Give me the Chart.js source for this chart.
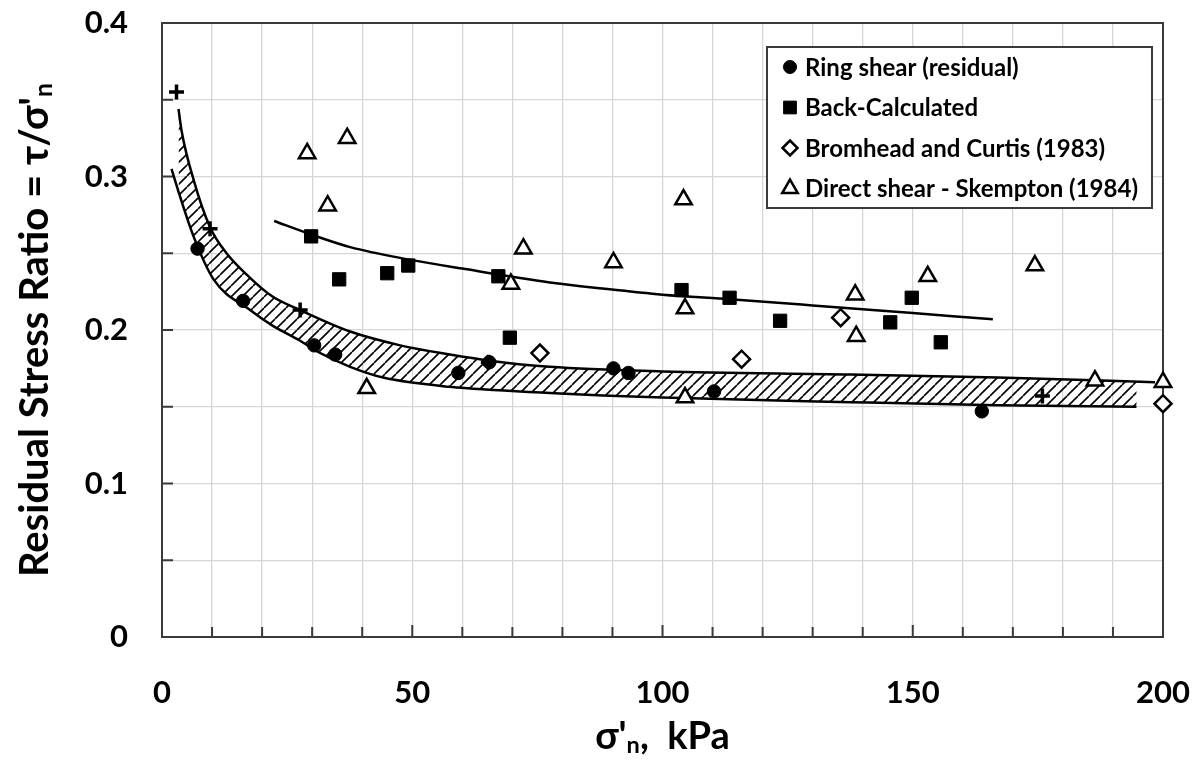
<!DOCTYPE html>
<html>
<head>
<meta charset="utf-8">
<script src="https://cdn.jsdelivr.net/npm/chart.js@4.4.1/dist/chart.umd.min.js"></script>
<style>
html, body { margin: 0; padding: 0; background: #fff; }
#wrap { width: 1202px; height: 760px; }
</style>
</head>
<body>
<div id="wrap"><canvas id="chart" width="1202" height="760"></canvas></div>
<script>
// ---- values (x = sigma'n in kPa, y = tau/sigma'n) ----
const ringShearX = [7.1, 16.2, 30.4, 34.6, 59.2, 65.4, 90.2, 93.2, 110.3, 163.8];
const ringShearY = [0.253, 0.219, 0.190, 0.184, 0.172, 0.179, 0.175, 0.172, 0.160, 0.147];

const backCalcX = [29.8, 35.4, 45.0, 49.2, 67.2, 69.5, 103.8, 113.4, 123.5, 145.5, 149.8, 155.6];
const backCalcY = [0.261, 0.233, 0.237, 0.242, 0.235, 0.195, 0.226, 0.221, 0.206, 0.205, 0.221, 0.192];

const bromheadX = [75.5, 115.8, 135.6, 200];
const bromheadY = [0.185, 0.181, 0.208, 0.152];

const skemptonX = [29.0, 37.0, 33.1, 40.9, 69.7, 72.2, 90.2, 104.2, 104.5, 104.5, 138.5, 138.7, 153.0, 174.4, 186.4, 200];
const skemptonY = [0.315, 0.325, 0.281, 0.162, 0.230, 0.253, 0.244, 0.285, 0.214, 0.156, 0.223, 0.196, 0.235, 0.242, 0.167, 0.166];

const plusX = [2.9, 9.6, 27.6, 65.2, 175.9];
const plusY = [0.355, 0.266, 0.213, 0.179, 0.157];

// trend through back-calculated cases
const trendX = [22.4, 30, 37.6, 49.2, 60, 77.5, 88, 100, 113.5, 130, 150, 166];
const trendY = [0.271, 0.262, 0.254, 0.246, 0.240, 0.231, 0.227, 0.223, 0.220, 0.216, 0.211, 0.207];

// hatched band, upper and lower bounds
const bandUpX = [3.3, 3.9, 6.3, 9.6, 12.9, 17.6, 22, 27.6, 37.6, 47.6, 57.5, 65.5, 77.5, 100, 137.5, 167, 198.4];
const bandUpY = [0.344, 0.330, 0.298, 0.267, 0.250, 0.234, 0.222, 0.213, 0.199, 0.190, 0.184, 0.180, 0.176, 0.173, 0.171, 0.169, 0.166];
const bandLoX = [1.9, 3.6, 6.3, 10.3, 17.6, 22, 27.6, 31, 37.6, 44.2, 57.5, 77.5, 100, 137.5, 167, 194.7];
const bandLoY = [0.305, 0.287, 0.261, 0.233, 0.213, 0.203, 0.193, 0.186, 0.176, 0.169, 0.163, 0.159, 0.156, 0.153, 0.151, 0.150];

const xTickLabels = [0, 50, 100, 150, 200];
const yTickLabels = [0, 0.1, 0.2, 0.3, 0.4];

const FONT = "Lato, 'Open Sans', 'DejaVu Sans', sans-serif";

function pts(xs, ys) {
    return xs.map((x, i) => ({ x: x, y: ys[i] }));
}

// diagonal hatch for the band
function makeHatch() {
    const s = 11;
    const c = document.createElement('canvas');
    c.width = s; c.height = s;
    const g = c.getContext('2d');
    g.strokeStyle = '#000';
    g.lineWidth = 1.6;
    g.beginPath();
    for (let k = -1; k <= 1; k++) {
        g.moveTo(k * s, s);
        g.lineTo(k * s + s, 0);
    }
    g.stroke();
    return g.createPattern(c, 'repeat');
}

const ctx = document.getElementById('chart').getContext('2d');
const hatch = makeHatch();

// frame and inside tick marks
const framePlugin = {
    id: 'frame',
    beforeDatasetsDraw(chart) {
        const { ctx, chartArea: a, scales } = chart;
        ctx.save();
        ctx.strokeStyle = '#3a3a3a';
        ctx.lineWidth = 2;
        ctx.beginPath();
        scales.x.ticks.forEach(t => {
            const px = scales.x.getPixelForValue(t.value);
            ctx.moveTo(px, a.bottom);
            ctx.lineTo(px, a.bottom - (t.value % 50 === 0 ? 12 : 10));
        });
        scales.y.ticks.forEach(t => {
            const py = scales.y.getPixelForValue(t.value);
            ctx.moveTo(a.left, py);
            ctx.lineTo(a.left + 11, py);
        });
        ctx.stroke();
        ctx.strokeRect(a.left, a.top, a.right - a.left, a.bottom - a.top);
        ctx.restore();
    }
};

// axis titles with subscripts
function drawPieces(ctx, pieces, size) {
    let w = 0;
    pieces.forEach(p => {
        ctx.font = 'bold ' + (p.sub ? size * 0.62 : size) + 'px ' + FONT;
        w += ctx.measureText(p.t).width;
    });
    let x = -w / 2;
    pieces.forEach(p => {
        ctx.font = 'bold ' + (p.sub ? size * 0.62 : size) + 'px ' + FONT;
        ctx.fillText(p.t, x, p.sub ? size * 0.22 : 0);
        x += ctx.measureText(p.t).width;
    });
}

const titlePlugin = {
    id: 'titles',
    afterDraw(chart) {
        const { ctx, chartArea: a } = chart;
        ctx.save();
        ctx.fillStyle = '#000';
        ctx.textBaseline = 'middle';
        ctx.textAlign = 'left';
        ctx.translate((a.left + a.right) / 2, 737);
        drawPieces(ctx, [{ t: "σ'" }, { t: 'n', sub: true }, { t: ',  kPa' }], 38);
        ctx.restore();

        ctx.save();
        ctx.fillStyle = '#000';
        ctx.textBaseline = 'middle';
        ctx.textAlign = 'left';
        ctx.translate(35, (a.top + a.bottom) / 2);
        ctx.rotate(-Math.PI / 2);
        drawPieces(ctx, [{ t: "Residual Stress Ratio = τ/σ'" }, { t: 'n', sub: true }], 40);
        ctx.restore();
    }
};

// legend box inside the plot
const legendPlugin = {
    id: 'boxLegend',
    afterDraw(chart) {
        const { ctx } = chart;
        const items = chart.data.datasets.filter(d => d.legend);
        const left = 767, right = 1152, top = 47, bottom = 208;
        ctx.save();
        ctx.fillStyle = '#fff';
        ctx.fillRect(left, top, right - left, bottom - top);
        ctx.strokeStyle = '#3a3a3a';
        ctx.lineWidth = 2;
        ctx.strokeRect(left, top, right - left, bottom - top);
        items.forEach((d, i) => {
            const y = 67 + i * 40.5;
            ctx.fillStyle = d.backgroundColor;
            ctx.strokeStyle = d.borderColor;
            ctx.lineWidth = d.borderWidth;
            Chart.helpers.drawPoint(ctx, {
                pointStyle: d.pointStyle,
                radius: d.legendRadius,
                borderWidth: d.borderWidth,
                rotation: 0
            }, 790, y);
            ctx.fillStyle = '#000';
            ctx.font = 'bold 24px ' + FONT;
            ctx.textBaseline = 'middle';
            ctx.textAlign = 'left';
            ctx.fillText(d.label, 805, y + 1);
        });
        ctx.restore();
    }
};

function markers(label, data, style, r, lr, fill, bw) {
    return {
        label: label,
        legend: !!label,
        data: data,
        showLine: false,
        pointStyle: style,
        pointRadius: r,
        legendRadius: lr,
        backgroundColor: fill,
        borderColor: '#000',
        borderWidth: bw,
        pointBorderWidth: bw,
        clip: false
    };
}

function curve(data, extra) {
    return Object.assign({
        data: data,
        showLine: true,
        pointRadius: 0,
        borderColor: '#000',
        borderWidth: 2.5,
        cubicInterpolationMode: 'monotone',
        fill: false
    }, extra || {});
}

new Chart(ctx, {
    type: 'line',
    data: {
        datasets: [
            markers('Ring shear (residual)', pts(ringShearX, ringShearY), 'circle', 6.7, 6.5, '#000', 1),
            markers('Back-Calculated', pts(backCalcX, backCalcY), 'rect', 9.4, 9, '#000', 1),
            markers('Bromhead and Curtis (1983)', pts(bromheadX, bromheadY), 'rectRot', 8.5, 7.5, '#fff', 2.5),
            markers('Direct shear - Skempton (1984)', pts(skemptonX, skemptonY), 'triangle', 9.5, 9, '#fff', 2.5),
            markers('', pts(plusX, plusY), 'cross', 7.5, 7, '#000', 3.5),
            curve(pts(trendX, trendY)),
            curve(pts(bandUpX, bandUpY), { fill: '+1', backgroundColor: hatch }),
            curve(pts(bandLoX, bandLoY))
        ]
    },
    options: {
        responsive: false,
        animation: false,
        events: [],
        layout: { padding: { top: 23, right: 39, left: 0, bottom: 0 }, autoPadding: false },
        plugins: {
            legend: { display: false },
            tooltip: { enabled: false },
            filler: { drawTime: 'beforeDatasetsDraw' }
        },
        scales: {
            x: {
                type: 'linear',
                min: 0,
                max: 200,
                afterFit: s => { s.height = 123; s.paddingLeft = 0; s.paddingRight = 0; },
                border: { display: false },
                grid: { color: '#d6d6d6', lineWidth: 1.3, drawTicks: false },
                ticks: {
                    stepSize: 10,
                    padding: 37,
                    maxRotation: 0,
                    minRotation: 0,
                    autoSkip: false,
                    color: '#000',
                    font: { family: FONT, size: 31, weight: 'bold' },
                    callback: v => (xTickLabels.includes(v) ? String(v) : '')
                }
            },
            y: {
                type: 'linear',
                min: 0,
                max: 0.4,
                afterFit: s => { s.width = 162; s.paddingTop = 0; s.paddingBottom = 0; },
                border: { display: false },
                grid: { color: '#d6d6d6', lineWidth: 1.3, drawTicks: false },
                ticks: {
                    stepSize: 0.05,
                    padding: 34,
                    autoSkip: false,
                    color: '#000',
                    font: { family: FONT, size: 31, weight: 'bold' },
                    callback: v => {
                        const r = Math.round(v * 10) / 10;
                        return (Math.abs(v - r) < 1e-6 && yTickLabels.includes(r)) ? String(r) : '';
                    }
                }
            }
        }
    },
    plugins: [framePlugin, titlePlugin, legendPlugin]
});
</script>
</body>
</html>
